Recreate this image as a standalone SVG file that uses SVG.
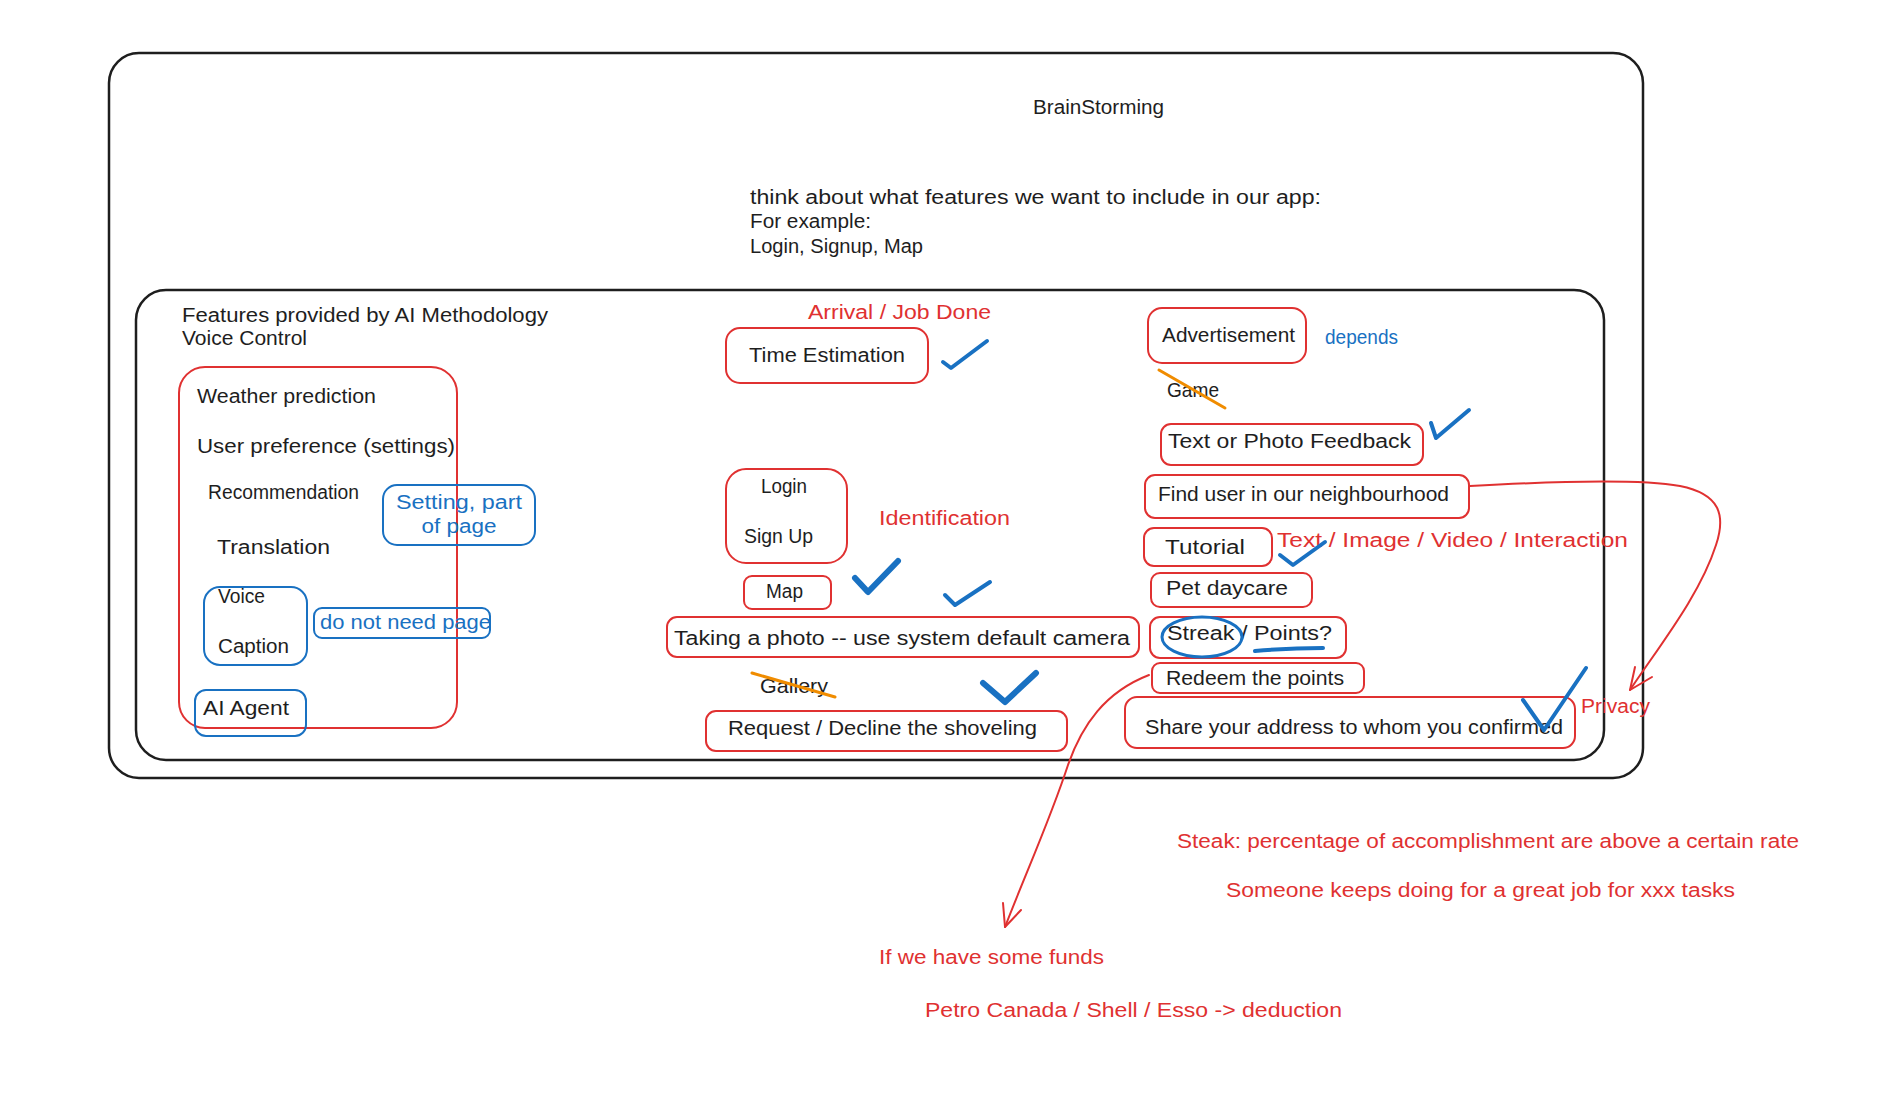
<svg xmlns="http://www.w3.org/2000/svg" width="1894" height="1096" viewBox="0 0 1894 1096">
<style>
.t{font-family:"Liberation Sans",Arial,sans-serif;font-size:20px;fill:#1e1e1e}
.r{fill:#e03131}
.b{fill:#1971c2}
.fr{fill:none;stroke:#1e1e1e;stroke-width:2.5}
.br{fill:none;stroke:#e03131;stroke-width:2}
.bb{fill:none;stroke:#1971c2;stroke-width:2}
.ck{fill:none;stroke:#1971c2;stroke-width:4;stroke-linecap:round;stroke-linejoin:round}
.ck2{fill:none;stroke:#1971c2;stroke-width:6;stroke-linecap:round;stroke-linejoin:round}
.st{stroke:#f08c00;stroke-width:3;stroke-linecap:round}
.cn{fill:none;stroke:#e03131;stroke-width:2;stroke-linecap:round;stroke-linejoin:round}
</style>
<rect width="1894" height="1096" fill="#ffffff"/>

<g id="brainstorming-frame">
  <rect class="fr" x="109" y="53" width="1534" height="725" rx="30"/>
  <text class="t" x="1033" y="114" textLength="131" lengthAdjust="spacingAndGlyphs">BrainStorming</text>
  <text class="t" x="750" y="204" textLength="571" lengthAdjust="spacingAndGlyphs">think about what features we want to include in our app:</text>
  <text class="t" x="750" y="228" textLength="121" lengthAdjust="spacingAndGlyphs">For example:</text>
  <text class="t" x="750" y="253" textLength="173" lengthAdjust="spacingAndGlyphs">Login, Signup, Map</text>
</g>

<g id="features-frame">
  <rect class="fr" x="136" y="290" width="1468" height="470" rx="30"/>
  <text class="t" x="182" y="322" textLength="366" lengthAdjust="spacingAndGlyphs">Features provided by AI Methodology</text>
  <text class="t" x="182" y="345" textLength="125" lengthAdjust="spacingAndGlyphs">Voice Control</text>
</g>

<g id="ai-features">
  <rect class="br" x="179" y="367" width="278" height="361" rx="26"/>
  <text class="t" x="197" y="403" textLength="179" lengthAdjust="spacingAndGlyphs">Weather prediction</text>
  <text class="t" x="197" y="453" textLength="258" lengthAdjust="spacingAndGlyphs">User preference (settings)</text>
  <text class="t" x="208" y="499" textLength="151" lengthAdjust="spacingAndGlyphs">Recommendation</text>
  <text class="t" x="217" y="554" textLength="113" lengthAdjust="spacingAndGlyphs">Translation</text>
</g>

<g id="setting-note">
  <rect class="bb" x="383" y="485" width="152" height="60" rx="14"/>
  <text class="t b" x="459" y="509" text-anchor="middle" textLength="126" lengthAdjust="spacingAndGlyphs">Setting, part</text>
  <text class="t b" x="459" y="533" text-anchor="middle" textLength="75" lengthAdjust="spacingAndGlyphs">of page</text>
</g>

<g id="voice-caption">
  <rect class="bb" x="204" y="587" width="103" height="78" rx="16"/>
  <text class="t" x="218" y="603" textLength="47" lengthAdjust="spacingAndGlyphs">Voice</text>
  <text class="t" x="218" y="653" textLength="71" lengthAdjust="spacingAndGlyphs">Caption</text>
</g>

<g id="no-page-note">
  <rect class="bb" x="314" y="608" width="176" height="30" rx="8"/>
  <text class="t b" x="320" y="629" textLength="171" lengthAdjust="spacingAndGlyphs">do not need page</text>
</g>

<g id="ai-agent">
  <rect class="bb" x="195" y="690" width="111" height="46" rx="11"/>
  <text class="t" x="203" y="715" textLength="86" lengthAdjust="spacingAndGlyphs">AI Agent</text>
</g>

<g id="time-estimation">
  <text class="t r" x="808" y="319" textLength="183" lengthAdjust="spacingAndGlyphs">Arrival / Job Done</text>
  <rect class="br" x="726" y="328" width="202" height="55" rx="14"/>
  <text class="t" x="749" y="362" textLength="156" lengthAdjust="spacingAndGlyphs">Time Estimation</text>
</g>

<g id="login-signup">
  <rect class="br" x="726" y="469" width="121" height="94" rx="20"/>
  <text class="t" x="761" y="493" textLength="46" lengthAdjust="spacingAndGlyphs">Login</text>
  <text class="t" x="744" y="543" textLength="69" lengthAdjust="spacingAndGlyphs">Sign Up</text>
  <text class="t r" x="879" y="525" textLength="131" lengthAdjust="spacingAndGlyphs">Identification</text>
</g>

<g id="map">
  <rect class="br" x="744" y="576" width="87" height="33" rx="8"/>
  <text class="t" x="766" y="598" textLength="37" lengthAdjust="spacingAndGlyphs">Map</text>
</g>

<g id="taking-photo">
  <rect class="br" x="667" y="617" width="472" height="40" rx="10"/>
  <text class="t" x="674" y="645" textLength="456" lengthAdjust="spacingAndGlyphs">Taking a photo -- use system default camera</text>
</g>

<g id="gallery">
  <text class="t" x="760" y="693" textLength="68" lengthAdjust="spacingAndGlyphs">Gallery</text>
  <line class="st" x1="752" y1="673" x2="835" y2="697"/>
</g>

<g id="request-decline">
  <rect class="br" x="706" y="711" width="361" height="40" rx="10"/>
  <text class="t" x="728" y="735" textLength="309" lengthAdjust="spacingAndGlyphs">Request / Decline the shoveling</text>
</g>

<g id="advertisement">
  <rect class="br" x="1148" y="308" width="158" height="55" rx="14"/>
  <text class="t" x="1162" y="342" textLength="133" lengthAdjust="spacingAndGlyphs">Advertisement</text>
  <text class="t b" x="1325" y="344" textLength="73" lengthAdjust="spacingAndGlyphs">depends</text>
</g>

<g id="game">
  <text class="t" x="1167" y="397" textLength="52" lengthAdjust="spacingAndGlyphs">Game</text>
  <line class="st" x1="1159" y1="370" x2="1225" y2="408"/>
</g>

<g id="feedback">
  <rect class="br" x="1161" y="424" width="262" height="41" rx="10"/>
  <text class="t" x="1168" y="448" textLength="243" lengthAdjust="spacingAndGlyphs">Text or Photo Feedback</text>
</g>

<g id="find-user">
  <rect class="br" x="1145" y="475" width="324" height="43" rx="10"/>
  <text class="t" x="1158" y="501" textLength="291" lengthAdjust="spacingAndGlyphs">Find user in our neighbourhood</text>
</g>

<g id="tutorial">
  <rect class="br" x="1144" y="528" width="128" height="38" rx="10"/>
  <text class="t" x="1165" y="554" textLength="80" lengthAdjust="spacingAndGlyphs">Tutorial</text>
  <text class="t r" x="1277" y="547" textLength="351" lengthAdjust="spacingAndGlyphs">Text / Image / Video / Interaction</text>
</g>

<g id="pet-daycare">
  <rect class="br" x="1151" y="573" width="161" height="34" rx="9"/>
  <text class="t" x="1166" y="595" textLength="122" lengthAdjust="spacingAndGlyphs">Pet daycare</text>
</g>

<g id="streak-points">
  <rect class="br" x="1150" y="617" width="196" height="41" rx="10"/>
  <text class="t" x="1167" y="640" textLength="165" lengthAdjust="spacingAndGlyphs">Streak / Points?</text>
  <ellipse cx="1202" cy="637" rx="40" ry="20" fill="none" stroke="#1971c2" stroke-width="3"/>
  <path d="M1255,651 Q1290,648 1323,648" fill="none" stroke="#1971c2" stroke-width="4" stroke-linecap="round"/>
</g>

<g id="redeem">
  <rect class="br" x="1152" y="663" width="212" height="30" rx="8"/>
  <text class="t" x="1166" y="685" textLength="178" lengthAdjust="spacingAndGlyphs">Redeem the points</text>
</g>

<g id="share-address">
  <rect class="br" x="1125" y="697" width="450" height="51" rx="12"/>
  <text class="t" x="1145" y="734" textLength="418" lengthAdjust="spacingAndGlyphs">Share your address to whom you confirmed</text>
  <text class="t r" x="1581" y="713" textLength="69" lengthAdjust="spacingAndGlyphs">Privacy</text>
</g>

<g id="checkmarks">
  <path class="ck" d="M943,362 L951,368 L987,341"/>
  <path class="ck2" d="M855,578 L868,592 L898,561"/>
  <path class="ck" d="M945,595 L955,605 L990,582"/>
  <path class="ck2" d="M983,683 L1005,702 L1036,673"/>
  <path class="ck" d="M1431,423 L1436,438 L1469,410"/>
  <path class="ck" d="M1280,555 L1293,565 L1325,542"/>
  <path class="ck" d="M1523,700 L1544,730 L1586,668"/>
</g>

<g id="notes">
  <text class="t r" x="1177" y="848" textLength="622" lengthAdjust="spacingAndGlyphs">Steak: percentage of accomplishment are above a certain rate</text>
  <text class="t r" x="1226" y="897" textLength="509" lengthAdjust="spacingAndGlyphs">Someone keeps doing for a great job for xxx tasks</text>
  <text class="t r" x="879" y="964" textLength="225" lengthAdjust="spacingAndGlyphs">If we have some funds</text>
  <text class="t r" x="925" y="1017" textLength="417" lengthAdjust="spacingAndGlyphs">Petro Canada / Shell / Esso -&gt; deduction</text>
</g>

<g id="connectors">
  <path class="cn" d="M1470,486 C1560,481 1640,479 1680,486 C1720,494 1726,515 1716,545 C1700,595 1660,645 1630,690"/>
  <polyline class="cn" points="1635,667 1630,690 1652,677"/>
  <path class="cn" d="M1149,675 C1105,692 1082,725 1068,765 C1050,820 1025,875 1005,927"/>
  <polyline class="cn" points="1003,903 1005,927 1021,910"/>
</g>
</svg>
